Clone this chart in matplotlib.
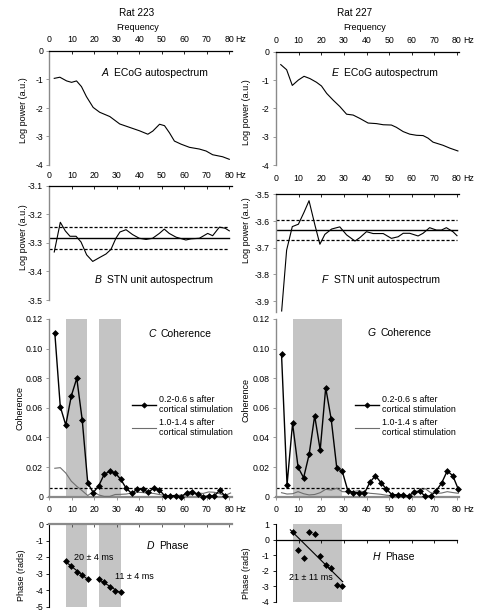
import matplotlib
matplotlib.use('Agg')
import matplotlib.pyplot as plt
import numpy as np

plt.rcParams['font.family'] = ['Liberation Sans', 'DejaVu Sans']

# ---------------- data ----------------
freq_A = [2.2, 4.7, 7.7, 9.9, 12.1, 14.3, 16.5, 19.5, 22.4, 26.9, 31.3, 35.7, 40.1, 43.8,
          46.0, 49.0, 51.2, 53.4, 55.6, 58.6, 62.3, 66.7, 69.7, 72.6, 77.0, 80.0]
pow_A = [-0.96, -0.92, -1.05, -1.10, -1.05, -1.25, -1.60, -1.98, -2.15, -2.30, -2.56, -2.68,
         -2.80, -2.92, -2.81, -2.57, -2.62, -2.87, -3.16, -3.27, -3.38, -3.44, -3.51, -3.64,
         -3.71, -3.80]

freq_E = [2.1, 4.7, 7.2, 9.9, 12.4, 15.0, 17.9, 20.1, 22.4, 25.3, 28.2, 31.2, 34.1, 37.1,
          40.7, 44.4, 47.4, 51.0, 53.2, 56.2, 59.1, 62.1, 65.0, 67.2, 69.4, 73.8, 76.8, 80.4]
pow_E = [-0.46, -0.64, -1.19, -1.00, -0.87, -0.95, -1.08, -1.21, -1.47, -1.71, -1.93, -2.20,
         -2.23, -2.35, -2.51, -2.53, -2.57, -2.58, -2.66, -2.81, -2.90, -2.94, -2.95, -3.04,
         -3.18, -3.29, -3.39, -3.49]

freq_B = [2.2, 4.9, 7.1, 9.2, 11.9, 14.1, 16.6, 19.3, 22.2, 25.2, 27.4, 29.6, 31.4, 34.1,
          37.0, 40.0, 43.0, 45.9, 48.9, 51.1, 53.3, 56.3, 60.7, 63.0, 66.7, 70.4, 72.6, 75.6,
          78.2, 80.0]
pow_B = [-3.332, -3.228, -3.258, -3.277, -3.277, -3.297, -3.342, -3.365, -3.352, -3.339,
         -3.323, -3.284, -3.262, -3.254, -3.271, -3.284, -3.288, -3.284, -3.267, -3.252,
         -3.267, -3.280, -3.290, -3.286, -3.284, -3.267, -3.275, -3.245, -3.249, -3.258]
mean_B, lo_B, hi_B = -3.283, -3.322, -3.243

freq_F = [2.5, 4.7, 7.2, 9.9, 12.4, 14.6, 17.2, 19.4, 21.6, 24.6, 28.2, 31.2, 34.9, 37.1,
          40.0, 42.9, 47.4, 51.0, 54.0, 56.2, 59.1, 62.8, 65.0, 67.9, 70.9, 73.1, 75.3, 78.2,
          80.0]
pow_F = [-3.937, -3.709, -3.621, -3.612, -3.567, -3.524, -3.615, -3.687, -3.650, -3.630,
         -3.622, -3.652, -3.675, -3.662, -3.640, -3.647, -3.647, -3.665, -3.659, -3.646,
         -3.646, -3.656, -3.646, -3.625, -3.634, -3.634, -3.625, -3.640, -3.655]
mean_F, lo_F, hi_F = -3.632, -3.673, -3.597

coh_freq = [2.44, 4.88, 7.32, 9.77, 12.21, 14.65, 17.09, 19.53, 21.97, 24.41, 26.86, 29.30,
            31.74, 34.18, 36.62, 39.06, 41.50, 43.95, 46.39, 48.83, 51.27, 53.71, 56.15,
            58.59, 61.04, 63.48, 65.92, 68.36, 70.80, 73.24, 75.68, 78.13, 80.57]

coh_C_early = [0.1108, 0.0608, 0.0484, 0.0680, 0.0800, 0.0516, 0.0093, 0.0027, 0.0074,
               0.0151, 0.0171, 0.0160, 0.0117, 0.0057, 0.0022, 0.0051, 0.0051, 0.0030,
               0.0057, 0.0047, 0.0006, 0.0006, 0.0008, 0.0000, 0.0026, 0.0034, 0.0016,
               0.0000, 0.0005, 0.0005, 0.0042, 0.0006]
coh_C_late = [0.0192, 0.0196, 0.0160, 0.0105, 0.0070, 0.0040, 0.0008, 0.0034, 0.0012,
              0.0002, 0.0002, 0.0015, 0.0016, 0.0018, 0.0025, 0.0030, 0.0028, 0.0024,
              0.0022, 0.0015, 0.0008, 0.0006, 0.0005, 0.0012, 0.0010, 0.0015, 0.0025,
              0.0022, 0.0032, 0.0030, 0.0020, 0.0008, 0.0025]

coh_G_early = [0.0962, 0.0080, 0.0495, 0.0198, 0.0128, 0.0286, 0.0547, 0.0315, 0.0736,
               0.0522, 0.0194, 0.0171, 0.0041, 0.0027, 0.0027, 0.0023, 0.0097, 0.0142,
               0.0095, 0.0051, 0.0013, 0.0013, 0.0012, 0.0004, 0.0034, 0.0037, 0.0004,
               0.0004, 0.0040, 0.0093, 0.0174, 0.0142, 0.0051]
coh_G_late = [0.0027, 0.0018, 0.0020, 0.0034, 0.0020, 0.0012, 0.0015, 0.0027, 0.0050,
              0.0045, 0.0057, 0.0034, 0.0033, 0.0035, 0.0040, 0.0032, 0.0023, 0.0020,
              0.0016, 0.0010, 0.0006, 0.0005, 0.0005, 0.0005, 0.0015, 0.0035, 0.0055,
              0.0027, 0.0022, 0.0025, 0.0034, 0.0028, 0.0023]
coh_sig = 0.0057

bands_left = [(7.4, 16.6), (22.1, 31.7)]
bands_right = [(7.7, 29.1)]

phase_D1_freq = [7.32, 9.77, 12.21, 14.65, 17.09]
phase_D1 = [-2.27, -2.55, -2.89, -3.08, -3.34]
phase_D2_freq = [21.97, 24.41, 26.86, 29.30, 31.74]
phase_D2 = [-3.34, -3.54, -3.81, -4.05, -4.11]
phase_H_freq = [7.32, 9.77, 12.21, 14.65, 17.09, 19.53, 21.97, 24.41, 26.86, 29.30]
phase_H = [0.46, -0.69, -1.16, 0.46, 0.37, -1.04, -1.65, -1.86, -2.93, -3.00]

xticks = [0, 10, 20, 30, 40, 50, 60, 70, 80]

# ---------------- layout ----------------
W, H = 480, 612
fig = plt.figure(figsize=(4.8, 6.12), dpi=100)

TS = 6.3      # tick label size
PS = 7.5      # panel label size
SPG = '#8a8a8a'
BAND = '#c4c4c4'
MS = 3.0
MEW = 0.5


def add_ax(left, top, width, height):
    return fig.add_axes([left / W, 1 - (top + height) / H, width / W, height / H])


LX0, LSC = 49.3, 2.25
RX0, RSC = 276.0, 2.2625
XMAX = 81.0


def base(ax, left_color=SPG):
    ax.set_xlim(0, XMAX)
    for s in ['right', 'bottom', 'top']:
        ax.spines[s].set_visible(False)
    ax.spines['left'].set_color(left_color)
    ax.spines['left'].set_linewidth(1.0)
    ax.tick_params(axis='y', direction='out', length=2.5, width=0.6, colors='black',
                   labelsize=TS, pad=2, color=left_color)
    ax.set_facecolor('none')


def top_axis(ax, pad):
    ax.spines['top'].set_visible(True)
    ax.spines['top'].set_color('black')
    ax.spines['top'].set_linewidth(0.9)
    ax.xaxis.tick_top()
    ax.set_xticks(xticks)
    ax.tick_params(axis='x', direction='in', length=2.5, width=0.6, labelsize=TS, pad=pad)
    ax.annotate('Hz', xy=(80, 1), xycoords=('data', 'axes fraction'), xytext=(4.5, pad),
                textcoords='offset points', ha='left', va='bottom', fontsize=TS)


def spectrum(ax, f, p, ylim, yticks, ylabels, pad, label_letter, label_text, lx, ly):
    base(ax)
    top_axis(ax, pad)
    ax.set_ylim(*ylim)
    ax.set_yticks(yticks)
    ax.set_yticklabels(ylabels)
    ax.plot(f, p, color='black', lw=0.8)
    ax.text(lx, ly, label_letter, style='italic', fontsize=PS, ha='left', va='center')
    ax.annotate(label_text, xy=(lx, ly), xycoords='data', xytext=(9, 0),
                textcoords='offset points', fontsize=PS, ha='left', va='center')


# ---- A ----
axA = add_ax(LX0, 51, XMAX * LSC, 114)
spectrum(axA, freq_A, pow_A, (-4, 0), [0, -1, -2, -3, -4], ['0', '-1', '-2', '-3', '-4'],
         5.0, 'A', 'ECoG autospectrum', 23.3, -0.78)
# ---- E ----
axE = add_ax(RX0, 51.5, XMAX * RSC, 114)
spectrum(axE, freq_E, pow_E, (-4, 0), [0, -1, -2, -3, -4], ['0', '-1', '-2', '-3', '-4'],
         4.7, 'E', 'ECoG autospectrum', 24.6, -0.74)

# ---- B ----
axB = add_ax(LX0, 185.7, XMAX * LSC, 114.3)
spectrum(axB, freq_B, pow_B, (-3.5, -3.1), [-3.1, -3.2, -3.3, -3.4, -3.5],
         ['-3.1', '-3.2', '-3.3', '-3.4', '-3.5'], 4.0, 'B', 'STN unit autospectrum', 20.0, -3.43)
axB.axhline(mean_B, xmin=0, xmax=80 / XMAX, color='black', lw=1.0)
axB.axhline(lo_B, xmin=0, xmax=80 / XMAX, color='black', lw=0.9, ls=(0, (2.5, 1.5)))
axB.axhline(hi_B, xmin=0, xmax=80 / XMAX, color='black', lw=0.9, ls=(0, (2.5, 1.5)))

# ---- F ----
axF = add_ax(RX0, 194.3, XMAX * RSC, 117.5)
spectrum(axF, freq_F, pow_F, (-3.94, -3.5), [-3.5, -3.6, -3.7, -3.8, -3.9],
         ['-3.5', '-3.6', '-3.7', '-3.8', '-3.9'], 7.8, 'F', 'STN unit autospectrum', 20.2, -3.821)
axF.axhline(mean_F, xmin=0, xmax=80 / XMAX, color='black', lw=1.0)
axF.axhline(lo_F, xmin=0, xmax=80 / XMAX, color='black', lw=0.9, ls=(0, (2.5, 1.5)))
axF.axhline(hi_F, xmin=0, xmax=80 / XMAX, color='black', lw=0.9, ls=(0, (2.5, 1.5)))


# ---- C / G ----
def coherence(ax, early, late, bands, letter, lx, ly, leg_x):
    base(ax)
    ax.spines['bottom'].set_visible(True)
    ax.spines['bottom'].set_color(SPG)
    ax.spines['bottom'].set_linewidth(1.6)
    ax.set_ylim(0, 0.12)
    ax.set_yticks([0, 0.02, 0.04, 0.06, 0.08, 0.10, 0.12])
    ax.set_yticklabels(['0', '0.02', '0.04', '0.06', '0.08', '0.10', '0.12'])
    ax.set_xticks(xticks)
    ax.tick_params(axis='x', direction='out', length=2, width=0.6, color=SPG,
                   labelbottom=False)
    for b0, b1 in bands:
        ax.axvspan(b0, b1, color=BAND, lw=0, zorder=0)
    ax.axhline(coh_sig, xmin=0, xmax=80.5 / XMAX, color='black', lw=0.9,
               ls=(0, (2.5, 1.5)), zorder=2)
    n = len(early)
    h1, = ax.plot(coh_freq[:n], early, color='black', lw=1.0, marker='D', ms=MS, mew=MEW,
                  zorder=4, clip_on=False)
    h2, = ax.plot(coh_freq, late, color='#6e6e6e', lw=0.8, zorder=3)
    ax.text(lx, ly, letter, style='italic', fontsize=PS, ha='left', va='center')
    ax.annotate('Coherence', xy=(lx, ly), xycoords='data', xytext=(9, 0),
                textcoords='offset points', fontsize=PS, ha='left', va='center')
    ax.legend([h1, h2], ['0.2-0.6 s after\ncortical stimulation',
                         '1.0-1.4 s after\ncortical stimulation'],
              loc='upper left', bbox_to_anchor=(leg_x, 0.575), frameon=False,
              fontsize=6.4, handlelength=2.7, handletextpad=0.35, labelspacing=0.45,
              borderpad=0, borderaxespad=0, markerscale=0.9)


axC = add_ax(LX0, 319, XMAX * LSC, 177.7)
coherence(axC, coh_C_early, coh_C_late, bands_left, 'C', 44.0, 0.1097, 0.452)
axG = add_ax(RX0, 319, XMAX * RSC, 177.7)
coherence(axG, coh_G_early, coh_G_late, bands_right, 'G', 40.5, 0.1103, 0.43)


# ---- D ----
axD = add_ax(LX0, 524, XMAX * LSC, 82.5)
base(axD, left_color='black')
axD.spines['left'].set_linewidth(0.8)
axD.set_ylim(-5, 0)
axD.set_yticks([0, -1, -2, -3, -4, -5])
axD.set_yticklabels(['0', '-1', '-2', '-3', '-4', '-5'])
axD.spines['top'].set_visible(True)
axD.spines['top'].set_color(SPG)
axD.spines['top'].set_linewidth(1.6)
axD.xaxis.tick_top()
axD.set_xticks(xticks)
axD.tick_params(axis='x', direction='in', length=2.5, width=0.6, color='#444444',
                labelsize=TS, pad=7.5)
axD.annotate('Hz', xy=(80, 1), xycoords=('data', 'axes fraction'), xytext=(4.5, 7.5),
             textcoords='offset points', ha='left', va='bottom', fontsize=TS)
for b0, b1 in bands_left:
    axD.axvspan(b0, b1, color=BAND, lw=0, zorder=0)
for fr, ph in [(phase_D1_freq, phase_D1), (phase_D2_freq, phase_D2)]:
    k, c = np.polyfit(fr, ph, 1)
    xs = np.array([fr[0], fr[-1]])
    axD.plot(xs, k * xs + c, color='black', lw=0.8, zorder=3)
    axD.plot(fr, ph, ls='none', marker='D', ms=MS, mew=MEW, color='black', zorder=4)
axD.text(11.0, -2.03, '20 \u00b1 4 ms', fontsize=6.5, ha='left', va='center')
axD.text(29.2, -3.17, '11 \u00b1 4 ms', fontsize=6.5, ha='left', va='center')
axD.text(43.3, -1.34, 'D', style='italic', fontsize=PS, ha='left', va='center')
axD.annotate('Phase', xy=(43.3, -1.34), xycoords='data', xytext=(9, 0),
             textcoords='offset points', fontsize=PS, ha='left', va='center')

# ---- H ----
axH = add_ax(RX0, 524, XMAX * RSC, 77.7)
base(axH, left_color='black')
axH.spines['left'].set_linewidth(0.8)
axH.set_ylim(-4, 1)
axH.set_yticks([1, 0, -1, -2, -3, -4])
axH.set_yticklabels(['1', '0', '-1', '-2', '-3', '-4'])
axH.spines['bottom'].set_visible(True)
axH.spines['bottom'].set_position(('data', 0))
axH.spines['bottom'].set_color('black')
axH.spines['bottom'].set_linewidth(0.9)
axH.spines['bottom'].set_bounds(0, 80)
axH.set_xticks(xticks)
axH.tick_params(axis='x', direction='out', length=2.5, width=0.6, labelbottom=False)
secH = axH.secondary_xaxis('top')
secH.set_xticks(xticks)
secH.tick_params(axis='x', length=0, labelsize=TS, pad=7.5)
secH.spines['top'].set_visible(False)
axH.annotate('Hz', xy=(80, 1), xycoords=('data', 'axes fraction'), xytext=(4.5, 7.5),
             textcoords='offset points', ha='left', va='bottom', fontsize=TS)
for b0, b1 in bands_right:
    axH.axvspan(b0, b1, color=BAND, lw=0, zorder=0)
kH, cH = np.polyfit(phase_H_freq, phase_H, 1)
xsH = np.array([phase_H_freq[0] - 1.0, phase_H_freq[-1] + 0.2])
axH.plot(xsH, kH * xsH + cH, color='black', lw=0.8, zorder=3)
axH.plot(phase_H_freq, phase_H, ls='none', marker='D', ms=MS, mew=MEW, color='black',
         zorder=4)
axH.text(5.7, -2.46, '21 \u00b1 11 ms', fontsize=6.5, ha='left', va='center')
axH.text(42.7, -1.1, 'H', style='italic', fontsize=PS, ha='left', va='center')
axH.annotate('Phase', xy=(42.7, -1.1), xycoords='data', xytext=(9, 0),
             textcoords='offset points', fontsize=PS, ha='left', va='center')


# ---- figure texts ----
def ftext(x, y, s, **kw):
    fig.text(x / W, 1 - y / H, s, **kw)


ftext(137, 13, 'Rat 223', fontsize=7.2, ha='center', va='center')
ftext(138, 27, 'Frequency', fontsize=6.5, ha='center', va='center')
ftext(355, 13, 'Rat 227', fontsize=7.2, ha='center', va='center')
ftext(365, 28, 'Frequency', fontsize=6.5, ha='center', va='center')

ylab_kw = dict(fontsize=6.5, rotation=90, ha='center', va='center')
ftext(23, 110, 'Log power (a.u.)', **ylab_kw)
ftext(23, 237, 'Log power (a.u.)', **ylab_kw)
ftext(247, 112, 'Log power (a.u.)', **ylab_kw)
ftext(247, 230, 'Log power (a.u.)', **ylab_kw)
ftext(20, 408, 'Coherence', **ylab_kw)
ftext(246, 400, 'Coherence', **ylab_kw)
ftext(22, 575, 'Phase (rads)', **ylab_kw)
ftext(247, 573, 'Phase (rads)', **ylab_kw)

fig.savefig('out.png', dpi=100)
